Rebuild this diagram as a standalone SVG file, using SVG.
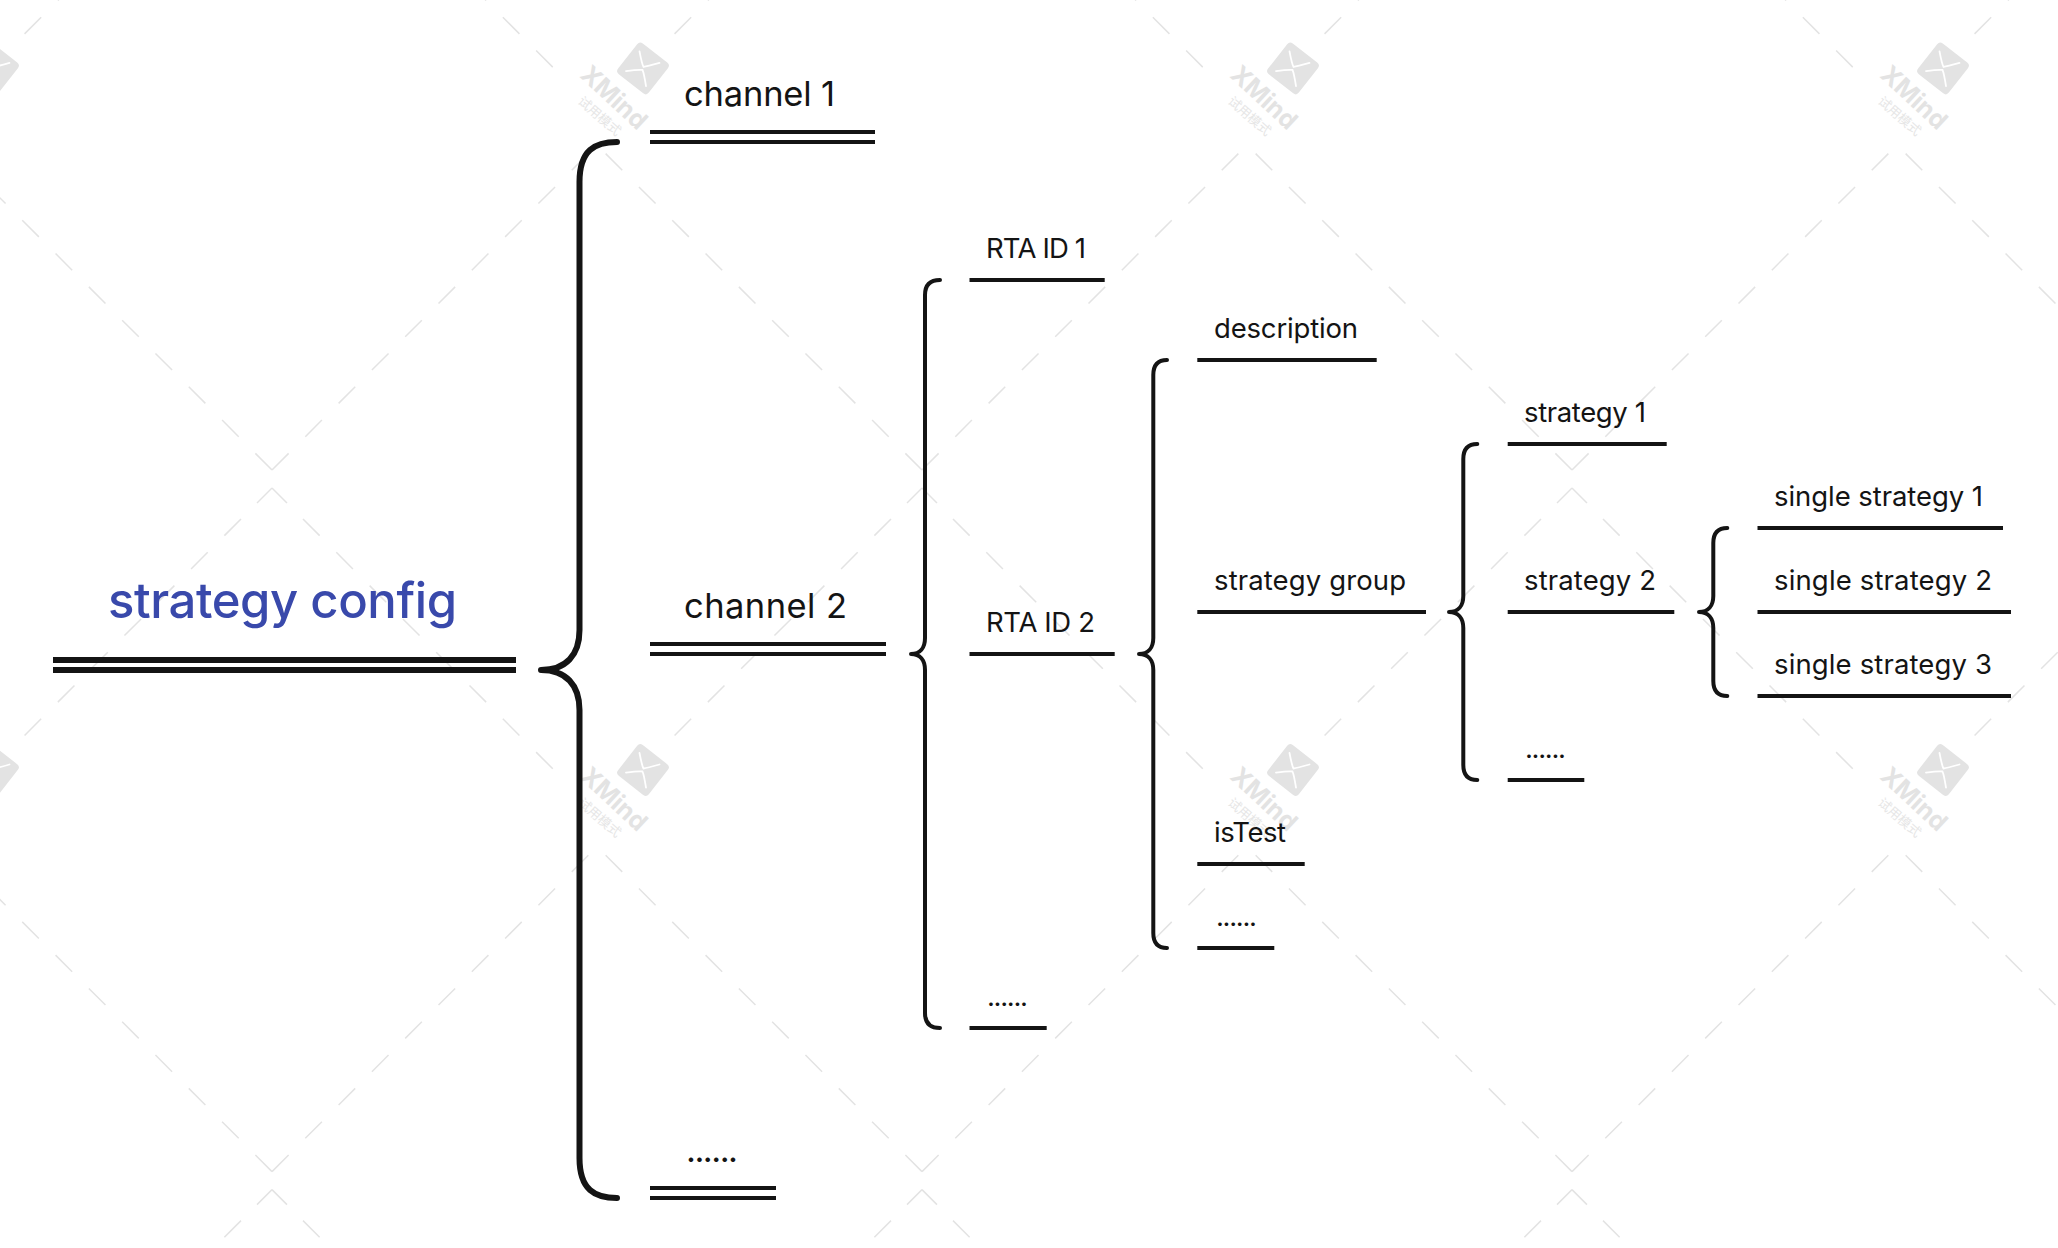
<svg xmlns="http://www.w3.org/2000/svg" width="2058" height="1248" viewBox="0 0 2058 1248">
<style>
text{font-family:Inter,"Liberation Sans",sans-serif;fill:#141414}
.s{font-size:27.5px}
.m{font-size:34.5px}
.t{font-size:49px;fill:#3949ab;font-weight:500}
.l{stroke:#141414;stroke-width:4;fill:none}
.b{stroke:#141414;stroke-width:4;fill:none;stroke-linecap:round;stroke-linejoin:round}
.d{stroke:#e3e3e3;stroke-width:1.5;fill:none;stroke-dasharray:23.5 23.6}
.wt{font-family:Inter,"Liberation Sans",sans-serif;font-weight:700;font-size:25px;fill:#e3e3e3}
.wc{font-family:"Noto Sans CJK SC",sans-serif;font-size:13px;fill:#e6e6e6}
</style>
<defs>
<g id="wm">
<path class="d" d="M0,0 L-317,-317"/>
<path class="d" d="M0,0 L317,-317"/>
<path class="d" d="M-15,33 L0,18"/>
<path class="d" d="M15,33 L0,18"/>
<path class="d" d="M-31,49 L-249,267"/>
<path class="d" d="M31,49 L281,299"/>
<g transform="translate(371,300)">
<rect x="-19.5" y="-19.5" width="39" height="39" rx="4" fill="#e3e3e3" transform="rotate(38)"/>
<path d="M-3.5,-17 Q-1,-4 0.5,-1.5 Q4,-2 16.5,-5.5 M-17,2.7 Q-5,1 -0.5,1.5 Q1,5 3,17.7" fill="none" stroke="#fff" stroke-width="1.8" stroke-linecap="round"/>
</g>
<text class="wt" transform="translate(307,308) rotate(43)" textLength="80">XMind</text>
<text class="wc" transform="translate(305,334) rotate(41)" textLength="52">试用模式</text>
</g>
</defs>
<rect width="2058" height="1248" fill="#fff"/>
<g id="watermark">
<use href="#wm" x="-378" y="-231.6"/><use href="#wm" x="272" y="-231.6"/><use href="#wm" x="922" y="-231.6"/><use href="#wm" x="1572" y="-231.6"/><use href="#wm" x="2222" y="-231.6"/>
<use href="#wm" x="-378" y="470"/><use href="#wm" x="272" y="470"/><use href="#wm" x="922" y="470"/><use href="#wm" x="1572" y="470"/><use href="#wm" x="2222" y="470"/>
<use href="#wm" x="-378" y="1171.6"/><use href="#wm" x="272" y="1171.6"/><use href="#wm" x="922" y="1171.6"/><use href="#wm" x="1572" y="1171.6"/><use href="#wm" x="2222" y="1171.6"/>
</g>
<g id="connectors">
<path class="b" style="stroke-width:6" d="M617,142 C595,142 579.5,150 579.5,182 V630 C579.5,655 566,670 541,670 C566,670 579.5,685 579.5,710 V1158 C579.5,1190 595,1198 617,1198"/>
<path class="b" d="M940,280 C930,280 925,285 925,295 V638 C925,648 920,654 911,654 C920,654 925,660 925,670 V1013 C925,1023 930,1028 940,1028"/>
<path class="b" d="M1167,360 C1158,360 1153.3,365 1153.3,375 V638 C1153.3,648 1148,654 1139,654 C1148,654 1153.3,660 1153.3,670 V933 C1153.3,943 1158,948 1167,948"/>
<path class="b" d="M1477.3,444 C1468,444 1463.3,449 1463.3,459 V596 C1463.3,606 1458,612 1449,612 C1458,612 1463.3,618 1463.3,628 V765 C1463.3,775 1468,780 1477.3,780"/>
<path class="b" d="M1727.3,528 C1718,528 1713.3,533 1713.3,543 V596 C1713.3,606 1708,612 1699,612 C1708,612 1713.3,618 1713.3,628 V681 C1713.3,691 1718,696 1727.3,696"/>
</g>
<g id="root"><text class="t" x="108" y="618" textLength="349">strategy config</text><path class="l" style="stroke-width:6" d="M53,660H516M53,670H516"/></g>
<g id="channel1"><text class="m" x="684" y="106" textLength="151">channel 1</text><path class="l" d="M650,132H875M650,142H875"/></g>
<g id="channel2"><text class="m" x="684" y="618" textLength="163">channel 2</text><path class="l" d="M650,644H886M650,654H886"/></g>
<g id="channel3"><text class="m" x="686" y="1162" textLength="52">......</text><path class="l" d="M650,1188H776M650,1198H776"/></g>
<g id="rta1"><text class="s" x="986" y="258" textLength="100">RTA ID 1</text><path class="l" d="M969.5,280H1104.7"/></g>
<g id="rta2"><text class="s" x="986" y="632" textLength="109">RTA ID 2</text><path class="l" d="M969.5,654H1114.7"/></g>
<g id="rta3"><text class="s" x="987" y="1006" textLength="41">......</text><path class="l" d="M969.5,1028H1046.7"/></g>
<g id="description"><text class="s" x="1214" y="338" textLength="144">description</text><path class="l" d="M1197.3,360H1376.7"/></g>
<g id="strategy-group"><text class="s" x="1214" y="590" textLength="192">strategy group</text><path class="l" d="M1197.3,612H1426"/></g>
<g id="isTest"><text class="s" x="1214" y="842" textLength="72">isTest</text><path class="l" d="M1197.3,864H1304.7"/></g>
<g id="desc-more"><text class="s" x="1216" y="926" textLength="41">......</text><path class="l" d="M1197.3,948H1274.3"/></g>
<g id="strategy1"><text class="s" x="1524" y="422" textLength="122">strategy 1</text><path class="l" d="M1507.7,444H1666.7"/></g>
<g id="strategy2"><text class="s" x="1524" y="590" textLength="132">strategy 2</text><path class="l" d="M1507.7,612H1674.3"/></g>
<g id="strategy3"><text class="s" x="1525" y="758" textLength="41">......</text><path class="l" d="M1507.7,780H1584.3"/></g>
<g id="single1"><text class="s" x="1774" y="506" textLength="209">single strategy 1</text><path class="l" d="M1757.5,528H2003"/></g>
<g id="single2"><text class="s" x="1774" y="590" textLength="218">single strategy 2</text><path class="l" d="M1757.5,612H2011"/></g>
<g id="single3"><text class="s" x="1774" y="674" textLength="218">single strategy 3</text><path class="l" d="M1757.5,696H2011"/></g>
</svg>
